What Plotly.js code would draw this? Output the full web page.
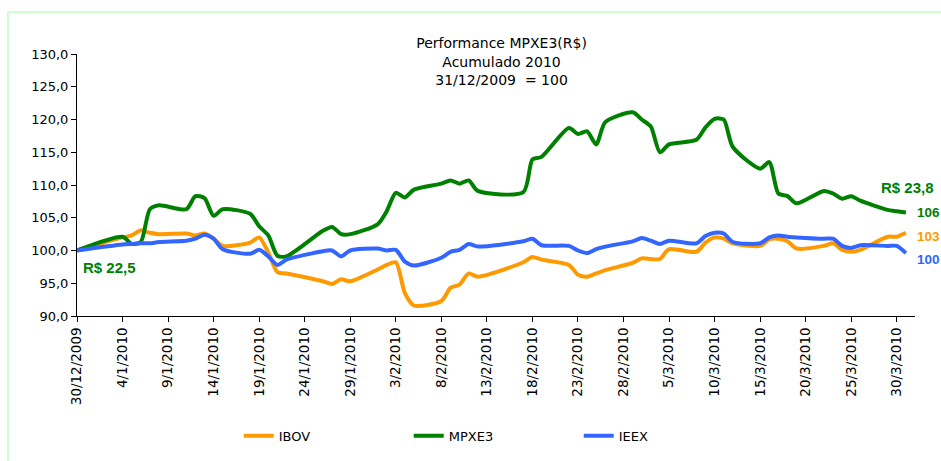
<!DOCTYPE html>
<html>
<head>
<meta charset="utf-8">
<script src="https://cdn.plot.ly/plotly-3.0.1.min.js"></script>
<style>
html,body{margin:0;padding:0;background:#fff;}
#chart{width:941px;height:461px;}
</style>
</head>
<body>
<div id="chart"></div>
<script>
const dates = [
 '2009-12-30',
 '2010-01-04','2010-01-05','2010-01-06','2010-01-07','2010-01-08',
 '2010-01-11','2010-01-12','2010-01-13','2010-01-14','2010-01-15',
 '2010-01-18','2010-01-19','2010-01-20','2010-01-21','2010-01-22',
 '2010-01-26','2010-01-27','2010-01-28','2010-01-29',
 '2010-02-01','2010-02-02','2010-02-03','2010-02-04','2010-02-05',
 '2010-02-08','2010-02-09','2010-02-10','2010-02-11','2010-02-12',
 '2010-02-17','2010-02-18','2010-02-19',
 '2010-02-22','2010-02-23','2010-02-24','2010-02-25','2010-02-26',
 '2010-03-01','2010-03-02','2010-03-03','2010-03-04','2010-03-05',
 '2010-03-08','2010-03-09','2010-03-10','2010-03-11','2010-03-12',
 '2010-03-15','2010-03-16','2010-03-17','2010-03-18','2010-03-19',
 '2010-03-22','2010-03-23','2010-03-24','2010-03-25','2010-03-26',
 '2010-03-29','2010-03-30','2010-03-31'
];

const ibov = [
 100.0,
 102.0,102.3,103.1,102.7,102.5,
 102.6,102.3,102.6,101.8,100.7,
 101.2,102.0,99.7,96.7,96.5,
 95.3,94.9,95.6,95.3,
 97.1,97.8,98.2,93.5,91.6,
 92.3,94.3,94.8,96.5,96.0,
 98.2,99.0,98.6,
 97.8,96.3,96.0,96.5,97.0,
 98.1,98.8,98.7,98.7,100.2,
 99.8,101.2,102.0,101.8,101.1,
 100.7,101.7,101.8,101.4,100.3,
 100.7,101.1,100.1,99.8,100.1,
 102.1,102.1,102.7
];

const mpxe3 = [
 100.0,
 102.1,101.0,101.3,106.3,106.9,
 106.3,108.3,108.0,105.3,106.3,
 105.6,103.7,102.3,99.2,99.1,
 103.0,103.6,102.5,102.5,
 104.0,106.0,108.8,108.1,109.3,
 110.2,110.7,110.2,110.7,109.1,
 108.9,113.9,114.3,
 118.7,117.8,118.2,116.2,119.6,
 121.1,120.0,118.9,115.0,116.2,
 116.9,118.8,120.1,120.0,115.8,
 112.5,113.5,108.7,108.3,107.2,
 109.1,108.7,107.9,108.3,107.6,
 106.2,106.0,105.8
];

const ieex = [
 100.0,
 100.9,101.0,101.1,101.1,101.3,
 101.5,101.8,102.4,101.8,100.2,
 99.5,100.1,99.1,97.8,98.6,
 99.9,100.0,99.1,100.0,
 100.3,100.0,100.1,98.3,97.7,
 98.9,99.8,100.1,101.0,100.6,
 101.4,101.8,100.8,
 100.7,100.0,99.6,100.2,100.6,
 101.4,101.9,101.5,101.0,101.5,
 101.1,102.2,102.7,102.6,101.3,
 101.1,102.0,102.3,102.1,102.0,
 101.8,101.8,100.7,100.4,100.8,
 100.7,100.7,99.6
];

const seriesNames = ['IBOV','MPXE3','IEEX'];
const seriesColors = ['#FF9900','#008000','#3366FF'];
const seriesValues = [ibov, mpxe3, ieex];

const traces = seriesNames.map((n,i)=>({
  type:'scatter', mode:'lines', name:n, x:dates, y:seriesValues[i],
  line:{color:seriesColors[i], width:4, shape:'spline', smoothing:0.7}
}));

const baseFont = 'DejaVu Sans, Verdana, sans-serif';
const labelFam = 'Liberation Sans, Arial, sans-serif';

const layout = {
  width:941, height:461,
  margin:{l:77, r:26, t:54, b:144},
  paper_bgcolor:'#fff', plot_bgcolor:'#fff',
  separators:',.',
  showlegend:true,
  font:{family:baseFont, size:12.5, color:'#000'},
  title:{
    text:'Performance MPXE3(R$)<br>Acumulado 2010<br>31/12/2009\u00a0 = 100',
    x:0.533, xref:'container', xanchor:'center',
    y:0.895, yref:'container', yanchor:'top',
    font:{family:baseFont, size:14, color:'#000'}
  },
  xaxis:{
    type:'date',
    range:['2009-12-30','2010-04-01'],
    tickmode:'linear', tick0:'2009-12-30', dtick:5*86400000,
    tickformat:'%-d/%-m/%Y', tickangle:-90,
    ticks:'outside', ticklen:5, tickcolor:'#000',
    showline:true, linecolor:'#000', linewidth:1,
    showgrid:false, zeroline:false,
    tickfont:{family:baseFont, size:13.5, color:'#000'}
  },
  yaxis:{
    range:[90,130], tickmode:'linear', tick0:90, dtick:5,
    tickformat:'.1f',
    ticks:'outside', ticklen:5, tickcolor:'#000',
    showline:true, linecolor:'#000', linewidth:1,
    showgrid:false, zeroline:false,
    tickfont:{family:baseFont, size:13, color:'#000'}
  },
  legend:{
    orientation:'h', x:0.193, xanchor:'left', y:-0.452, yanchor:'middle',
    entrywidth:125, entrywidthmode:'pixels',
    font:{family:baseFont, size:13, color:'#000'},
    bgcolor:'rgba(0,0,0,0)'
  },
  shapes:[{
    type:'rect', xref:'paper', yref:'paper',
    x0:-0.0823, x1:1.1, y0:-0.6, y1:1.16,
    line:{color:'#CCFFCC', width:2}, fillcolor:'rgba(0,0,0,0)', layer:'below'
  }],
  annotations:[
    {text:'<b>R$ 22,5</b>', xref:'paper', yref:'paper', x:0.005, y:0.187, xanchor:'left', yanchor:'middle', showarrow:false, font:{family:labelFam, size:15, color:'#008000'}},
    {text:'<b>R$ 23,8</b>', xref:'paper', yref:'paper', x:0.957, y:0.492, xanchor:'left', yanchor:'middle', showarrow:false, font:{family:labelFam, size:15, color:'#008000'}},
    {text:'<b>106</b>', xref:'paper', yref:'paper', x:1.0, y:0.395, xanchor:'left', yanchor:'middle', showarrow:false, font:{family:labelFam, size:13.5, color:'#008000'}},
    {text:'<b>103</b>', xref:'paper', yref:'paper', x:1.0, y:0.305, xanchor:'left', yanchor:'middle', showarrow:false, font:{family:labelFam, size:13.5, color:'#FF9900'}},
    {text:'<b>100</b>', xref:'paper', yref:'paper', x:1.0, y:0.217, xanchor:'left', yanchor:'middle', showarrow:false, font:{family:labelFam, size:13.5, color:'#3366FF'}}
  ]
};

Plotly.newPlot('chart', traces, layout, {displayModeBar:false, staticPlot:true});
</script>
</body>
</html>
